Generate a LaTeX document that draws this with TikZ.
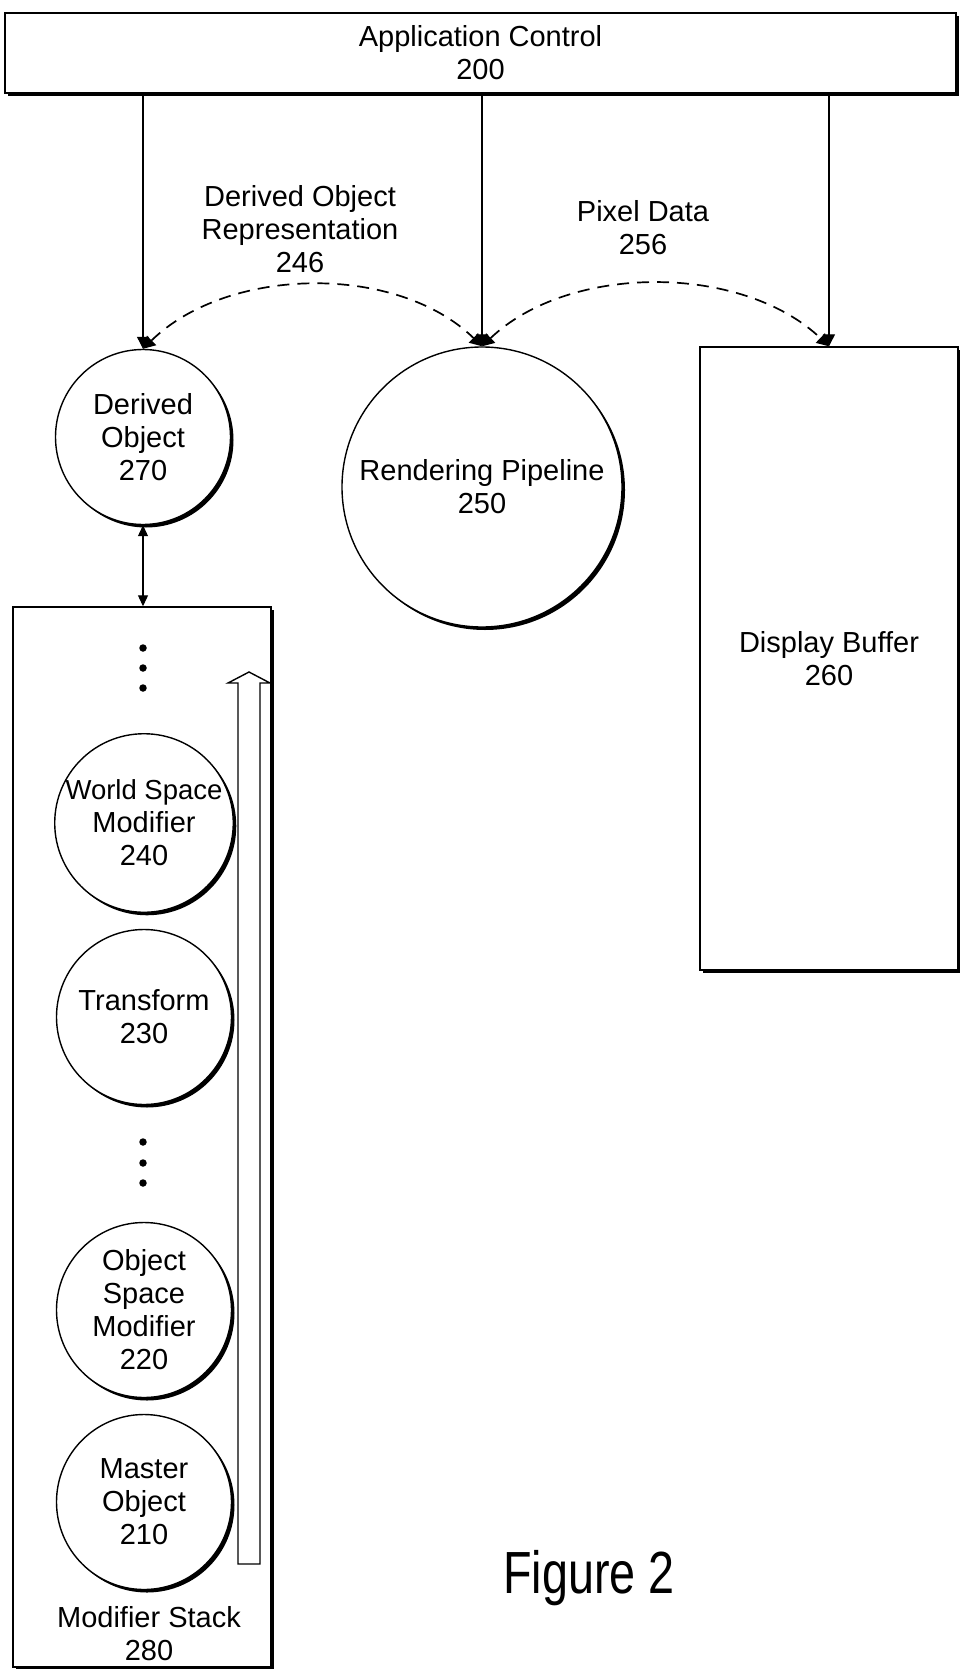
\documentclass[tikz,border=0pt]{standalone}
\usepackage{fontspec}
\setmainfont{Liberation Sans}
\usetikzlibrary{arrows.meta,shadows}
\begin{document}
\begin{tikzpicture}[x=1pt,y=-1pt,
  every node/.style={font=\fontsize{29}{33}\selectfont, align=center},
  shad/.style={drop shadow={shadow xshift=3pt,shadow yshift=-3pt,fill=black,opacity=1}},
  boxnode/.style={draw, line width=1.4pt, fill=white, shad, inner sep=0pt},
  circnode/.style={circle, draw, line width=1.4pt, fill=white, shad, inner sep=0pt, minimum size=175pt},
  tip/.style={-{Triangle[length=12pt,width=12pt]}},
  conn/.style={line width=1.1pt, tip},
  dconn/.style={line width=1.7pt, dash pattern=on 12pt off 8pt, {Triangle[length=12pt,width=13pt]}-{Triangle[length=12pt,width=13pt]}},
  biconn/.style={line width=1.1pt, {Triangle[length=11pt,width=10pt]}-{Triangle[length=11pt,width=10pt]}},
  dotm/.style={circle, fill=black, inner sep=0pt, minimum size=7.5pt},
]
\useasboundingbox (0,0) rectangle (960,1669);
\fill[white] (0,0) rectangle (960,1669);

% top box
\node[boxnode, minimum width=951pt, minimum height=80pt] (app) at (480.5,53) {Application Control\\200};

% upper nodes
\node[circnode] (d270) at (143,437) {Derived\\Object\\270};
\node[circnode, minimum size=280pt] (rp) at (482,487) {Rendering Pipeline\\250};
\node[boxnode, minimum width=258pt, minimum height=623pt] (db) at (829,658.5) {Display Buffer\\260};

% labels
\node (l246) at (300,229) {Derived Object\\Representation\\246};
\node (l256) at (643,228) {Pixel Data\\256};

% vertical connectors
\draw[conn] (app.south -| d270.north) -- (d270.north);
\draw[conn] (app.south -| rp.north) -- (rp.north);
\draw[conn] (app.south -| db.north) -- (db.north);

% dashed arcs
\draw[dconn] (d270.north) .. controls +(85,-83) and +(-85,-83) .. (rp.north);
\draw[dconn] (rp.north) .. controls +(87,-83) and +(-87,-83) .. (db.north);

% modifier stack
\node[boxnode, minimum width=258pt, minimum height=1060pt] (ms) at (142,1137) {};
\draw[biconn] (d270.south) -- (d270.south |- ms.north);

\node[dotm] (da1) at (143,648) {};
\node[dotm] (da2) at (143,668) {};
\node[dotm] (da3) at (143,688) {};

\node[circnode] (w240) at (144,823) {\fontsize{27.5}{32}\selectfont World Space\\Modifier\\240};
\node[circnode] (t230) at (144,1017) {Transform\\230};

\node[dotm] (db1) at (143,1142) {};
\node[dotm] (db2) at (143,1163) {};
\node[dotm] (db3) at (143,1183) {};

\node[circnode] (o220) at (144,1310) {Object\\Space\\Modifier\\220};
\node[circnode] (m210) at (144,1502) {Master\\Object\\210};

\node (l280) at (149,1634) {Modifier Stack\\280};

% hollow arrow
\draw[line width=1.4pt, fill=white] (238,1564) -- (238,683) -- (228,683) -- (249,672) -- (270,683) -- (260,683) -- (260,1564) -- cycle;

% figure caption
\node[anchor=base, font=\fontsize{59.5}{60}\selectfont] (fig) at (589,1593) {\scalebox{0.785}[1]{Figure 2}};
\end{tikzpicture}
\end{document}
